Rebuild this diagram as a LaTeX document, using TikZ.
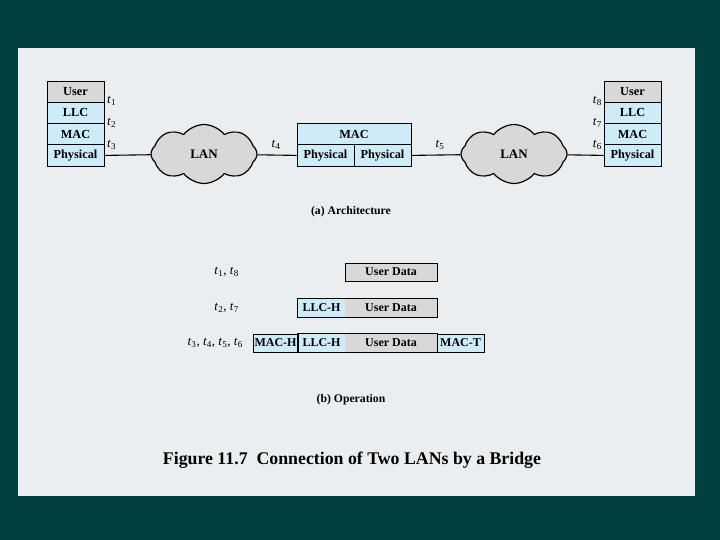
\documentclass[tikz,border=0pt]{standalone}
\usepackage{fontspec}
\setmainfont{Liberation Serif}
\usetikzlibrary{shapes.symbols}

\definecolor{bgteal}{RGB}{0,64,64}
\definecolor{panelgray}{RGB}{234,238,240}
\definecolor{layerblue}{RGB}{206,235,248}
\definecolor{datagray}{RGB}{216,216,216}

\newcommand{\tsub}[1]{\textit{t}\textsubscript{#1}}

\begin{document}
\begin{tikzpicture}[
		x=1pt,y=-1pt,
		cell/.style={draw,line width=0.7pt,minimum width=57pt,minimum height=21.25pt,inner sep=0pt,fill=layerblue,font=\bfseries\fontsize{12.3}{13}\selectfont},
		usercell/.style={cell,fill=datagray},
		field/.style={minimum height=18pt,inner sep=0pt,font=\bfseries\fontsize{12}{12}\selectfont},
		hdr/.style={field,fill=layerblue},
		data/.style={field,fill=datagray},
		lan/.style={cloud,cloud puffs=8,cloud puff arc=105,aspect=2,draw,line width=1.2pt,fill=datagray,minimum width=106pt,minimum height=59pt,inner sep=0pt,font=\bfseries\fontsize{13}{13}\selectfont},
		tlab/.style={inner sep=1pt,font=\fontsize{13}{13}\selectfont},
		link/.style={line width=1.1pt},
		caption/.style={font=\bfseries\fontsize{11.7}{12}\selectfont}
		]
		\fill[bgteal] (0,0) rectangle (720,540);
		\fill[panelgray] (18,48) rectangle (695,496);

		% (a) left station
		\node[usercell] (userA) at (75.5,91.6) {User};
		\node[cell] (llcA) at (75.5,112.9) {LLC};
		\node[cell] (macA) at (75.5,134.1) {MAC};
		\node[cell] (physA) at (75.5,155.4) {Physical};

		% bridge
		\node[cell,minimum width=114pt] (macB) at (354,134.1) {MAC};
		\node[cell] (physB1) at (325.5,155.4) {Physical};
		\node[cell] (physB2) at (382.5,155.4) {Physical};

		% right station
		\node[usercell] (userD) at (632.5,91.6) {User};
		\node[cell] (llcD) at (632.5,112.9) {LLC};
		\node[cell] (macD) at (632.5,134.1) {MAC};
		\node[cell] (physD) at (632.5,155.4) {Physical};

		\node[lan] (lanA) at (204,154) {LAN};
		\node[lan] (lanB) at (514,154) {LAN};

		\draw[link] (physA.east) -- (lanA);
		\draw[link] (lanA) -- (physB1.west);
		\draw[link] (physB2.east) -- (lanB);
		\draw[link] (lanB) -- (physD.west);

		\node[tlab,anchor=west] (t1) at (106,101) {\tsub{1}};
		\node[tlab,anchor=west] (t2) at (106,123) {\tsub{2}};
		\node[tlab,anchor=west] (t3) at (106,145) {\tsub{3}};
		\node[tlab] (t4) at (276,145) {\tsub{4}};
		\node[tlab] (t5) at (440,145) {\tsub{5}};
		\node[tlab,anchor=east] (t8) at (603,101) {\tsub{8}};
		\node[tlab,anchor=east] (t7) at (603,123) {\tsub{7}};
		\node[tlab,anchor=east] (t6) at (603,145) {\tsub{6}};

		\node[caption] (capA) at (351,212) {(a) Architecture};

		% (b) frames
		\node[data,draw,line width=0.7pt,minimum width=92pt] (ud1) at (391,272) {User Data};
		\node[tlab,anchor=east] (row1) at (240,272) {\tsub{1}, \tsub{8}};

		\node[hdr,minimum width=47pt] (llc2) at (321.5,308) {LLC-H};
		\node[data,minimum width=92pt] (ud2) at (391,308) {User Data};
		\draw[line width=0.7pt] (llc2.north west) rectangle (ud2.south east);
		\node[tlab,anchor=east] (row2) at (240,308) {\tsub{2}, \tsub{7}};

		\node[hdr,minimum width=47pt] (llc3) at (321.5,343) {LLC-H};
		\node[data,minimum width=92pt] (ud3) at (391,343) {User Data};
		\node[hdr,draw,line width=0.7pt,minimum width=45pt] (mach3) at (275.5,343) {MAC-H};
		\node[hdr,draw,line width=0.7pt,minimum width=47pt] (mact3) at (460.5,343) {MAC-T};
		\draw[line width=0.7pt] (llc3.north west) rectangle (ud3.south east);
		\node[tlab,anchor=east] (row3) at (244,343) {\tsub{3}, \tsub{4}, \tsub{5}, \tsub{6}};

		\node[caption] (capB) at (351,400) {(b) Operation};

		\node[font=\bfseries\fontsize{17.8}{18}\selectfont] (title) at (352,460) {Figure 11.7\ \ Connection of Two LANs by a Bridge};
	\end{tikzpicture}
\end{document}
